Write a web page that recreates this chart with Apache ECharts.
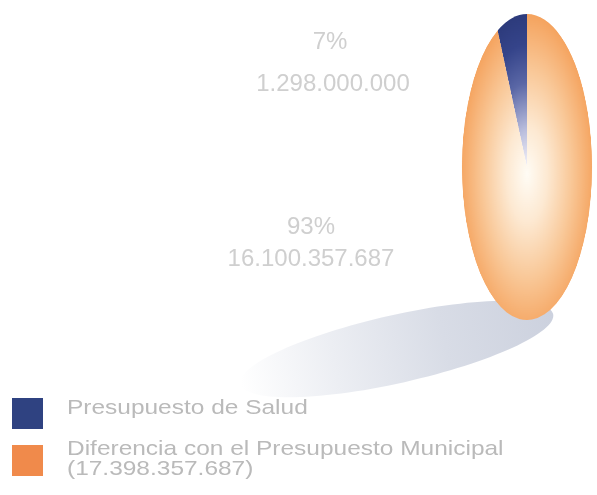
<!DOCTYPE html>
<html>
<head>
<meta charset="utf-8">
<title>Presupuesto de Salud</title>
<script src="https://cdn.jsdelivr.net/npm/echarts@6/dist/echarts.min.js"></script>
<style>
  html, body { margin: 0; padding: 0; background: #fff; overflow: hidden; }
  #main { position: absolute; left: 0; top: 0; width: 597px; height: 495px; }
  /* la torta se dibuja como circulo y se aplana con CSS para dar el ovalo */
  #pie {
    position: absolute; left: 374px; top: 14px; width: 306px; height: 306px;
    transform: scaleX(0.425); transform-origin: 50% 50%;
  }
</style>
</head>
<body>
<div id="main"></div>
<div id="pie"></div>
<script>
// datos
const categories = ['Presupuesto de Salud', 'Diferencia con el Presupuesto Municipal']
const values = [1298000000, 16100357687]
const colors = ['#2f4281', '#f08a4b']

const total = values.reduce((a, b) => a + b, 0)

function fmt(n) {
  return String(n).replace(/\B(?=(\d{3})+(?!\d))/g, '.')
}
function pct(n) {
  return Math.round(n / total * 100) + '%'
}

const labelColor = '#cfcfcf'
const legendColor = '#bababa'

// ---- torta ----
const pieChart = echarts.init(document.getElementById('pie'))
pieChart.setOption({
  animation: false,
  series: [{
    type: 'pie',
    radius: [0, 153],
    center: ['50%', '50%'],
    startAngle: 90,
    clockwise: false,
    silent: true,
    label: { show: false },
    labelLine: { show: false },
    data: [
      {
        name: categories[0],
        value: values[0],
        itemStyle: {
          color: {
            type: 'radial', x: 153, y: 153, r: 153, global: true,
            colorStops: [
              { offset: 0, color: '#f4f2f8' },
              { offset: 0.25, color: '#b8bcdc' },
              { offset: 0.55, color: '#5a67a6' },
              { offset: 0.8, color: '#35448a' },
              { offset: 1, color: '#2d3b7c' },
            ],
          },
        },
      },
      {
        name: categories[1],
        value: values[1],
        itemStyle: {
          color: {
            type: 'radial', x: 153, y: 160, r: 160, global: true,
            colorStops: [
              { offset: 0, color: '#fffcf5' },
              { offset: 0.3, color: '#fde9d2' },
              { offset: 0.65, color: '#f9c898' },
              { offset: 1, color: '#f5a35e' },
            ],
          },
        },
      },
    ],
  }],
})

// ---- sombra, textos y leyenda ----
const mainChart = echarts.init(document.getElementById('main'))

const labelFont = '24px "Liberation Sans", Arial, sans-serif'
const legendFont = '21px "Liberation Sans", Arial, sans-serif'

mainChart.setOption({
  animation: false,
  graphic: [
    // sombra
    {
      type: 'ellipse',
      x: 397, y: 349,
      rotation: 0.22,
      shape: { cx: 0, cy: 0, rx: 160, ry: 34 },
      style: {
        fill: {
          type: 'linear', x: 0, y: 0, x2: 1, y2: 0,
          colorStops: [
            { offset: 0, color: '#ffffff' },
            { offset: 0.3, color: '#eceef3' },
            { offset: 0.65, color: '#d8dce6' },
            { offset: 1, color: '#ccd1de' },
          ],
        },
      },
      z: 0,
    },
    // etiquetas
    { type: 'text', x: 330, y: 42, style: { text: pct(values[0]), font: labelFont, fill: labelColor, align: 'center', verticalAlign: 'middle' } },
    { type: 'text', x: 333, y: 84, style: { text: fmt(values[0]), font: labelFont, fill: labelColor, align: 'center', verticalAlign: 'middle' } },
    { type: 'text', x: 311, y: 227, style: { text: pct(values[1]), font: labelFont, fill: labelColor, align: 'center', verticalAlign: 'middle' } },
    { type: 'text', x: 311, y: 259, style: { text: fmt(values[1]), font: labelFont, fill: labelColor, align: 'center', verticalAlign: 'middle' } },
    // leyenda
    { type: 'rect', shape: { x: 12, y: 398, width: 31, height: 31 }, style: { fill: colors[0] } },
    { type: 'rect', shape: { x: 12, y: 445, width: 31, height: 31 }, style: { fill: colors[1] } },
    {
      type: 'text', x: 67, y: 408, scaleX: 1.165,
      style: { text: categories[0], font: legendFont, fill: legendColor, align: 'left', verticalAlign: 'middle' },
    },
    {
      type: 'text', x: 67, y: 459, scaleX: 1.165,
      style: {
        text: categories[1] + '\n(' + fmt(total) + ')',
        font: legendFont, lineHeight: 20, fill: legendColor, align: 'left', verticalAlign: 'middle',
      },
    },
  ],
})
</script>
</body>
</html>
